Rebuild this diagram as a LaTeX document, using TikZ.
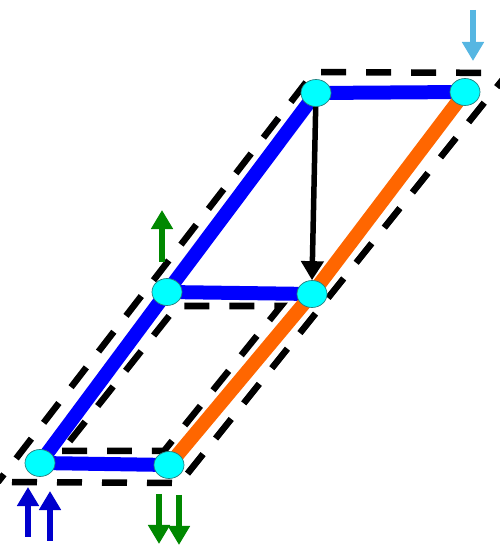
\documentclass[tikz,border=0pt]{standalone}
\usepackage{xcolor}
\usepackage{tikz}
\usetikzlibrary{arrows.meta, shapes.geometric, backgrounds}

\definecolor{barblue}{RGB}{0,0,255}
\definecolor{barorange}{RGB}{255,102,0}
\definecolor{jointcyan}{RGB}{0,255,255}
\definecolor{loaddarkblue}{RGB}{0,0,205}
\definecolor{loadgreen}{RGB}{0,136,0}
\definecolor{loadlightblue}{RGB}{86,182,226}

\begin{document}
\begin{tikzpicture}[>=Stealth,
  joint/.style={ellipse, draw=teal!70!gray, fill=jointcyan, line width=0.4pt, minimum width=0.6cm, minimum height=0.54cm, inner sep=0pt},
  bluebar/.style={draw=barblue, line width=0.28cm},
  orangebar/.style={draw=barorange, line width=0.28cm},
  loopline/.style={draw=black, line width=0.13cm, dash pattern=on 0.5cm off 0.4cm},
  load/.style={line width=0.12cm, -{Triangle[width=0.42cm, length=0.38cm]}}]
  \useasboundingbox (0,0) rectangle (10,10.9);
  % Joints of the frame
  \node[joint] (A) at (0.80, 1.64) {};
  \node[joint] (B) at (3.38, 1.60) {};
  \node[joint] (C) at (3.34, 5.06) {};
  \node[joint] (D) at (6.24, 5.02) {};
  \node[joint] (E) at (6.32, 9.04) {};
  \node[joint] (F) at (9.30, 9.06) {};
  \begin{pgfonlayer}{background}
    % Dashed loops (outer frame, inner lower panel)
    \draw[loopline, dash phase=0.62cm] (-0.04, 1.26) -- (3.60, 1.24) -- (10.16, 9.44) -- (6.28, 9.46) -- cycle;
    \draw[loopline] (1.24, 1.88) -- (3.28, 1.88) -- (5.62, 4.78) -- (3.54, 4.78) -- cycle;
    % Bars
    \draw[bluebar] (A.center) -- (B.center);
    \draw[bluebar] (A.center) -- (C.center) -- (E.center) -- (F.center);
    \draw[bluebar] (C.center) -- (D.center);
    \draw[orangebar] (B.center) -- (D.center) -- (F.center);
    % Internal force
    \draw[line width=0.11cm, -{Triangle[width=0.44cm, length=0.38cm]}] (E.center) -- (D.north);
  \end{pgfonlayer}
  % Loads and reactions
  \draw[load, loaddarkblue] (0.56, 0.16) -- (0.56, 1.16);
  \draw[load, loaddarkblue] (1.00, 0.08) -- (1.00, 1.08);
  \draw[load, loadgreen] (3.18, 1.02) -- (3.18, 0.02);
  \draw[load, loadgreen] (3.58, 1.00) -- (3.58, 0.00);
  \draw[load, loadgreen] (3.24, 5.66) -- (3.24, 6.70);
  \draw[load, loadlightblue] (9.46, 10.70) -- (9.46, 9.68);
\end{tikzpicture}
\end{document}
